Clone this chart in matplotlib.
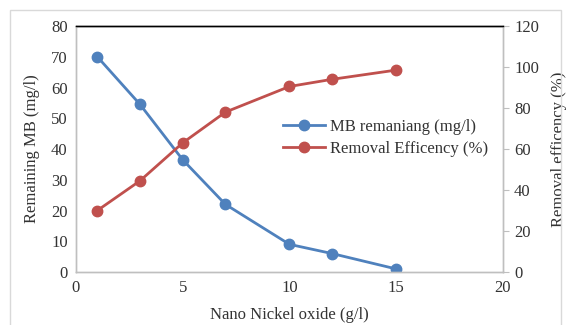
import matplotlib
matplotlib.use("Agg")
import matplotlib.pyplot as plt
from matplotlib.patches import Rectangle

# Data
dose = [1, 3, 5, 7, 10, 12, 15]
mb_remaining = [70, 54.5, 36.5, 22, 9, 6, 1]
removal_eff = [30, 44.5, 63, 78, 90.5, 94, 98.5]

x_ticks = [0, 5, 10, 15, 20]
left_ticks = [0, 10, 20, 30, 40, 50, 60, 70, 80]
right_ticks = [0, 20, 40, 60, 80, 100, 120]

BLUE = "#4F81BD"
RED = "#C0504D"
GRID = "#BFBFBF"
TEXT = "#333333"

plt.rcParams["font.family"] = ["Liberation Serif", "DejaVu Serif"]
plt.rcParams["font.size"] = 12

fig = plt.figure(figsize=(5.67, 3.25), dpi=100)
fig.patches.append(Rectangle((0.018, -0.01), 0.972, 0.978, transform=fig.transFigure,
                             fill=False, edgecolor="#D9D9D9", linewidth=1.0))

ax = fig.add_axes([0.134, 0.163, 0.753, 0.757])
ax2 = ax.twinx()

l1, = ax.plot(dose, mb_remaining, color=BLUE, lw=2, marker="o", ms=7.5,
              label="MB remaniang (mg/l)")
l2, = ax2.plot(dose, removal_eff, color=RED, lw=2, marker="o", ms=7.5,
               label="Removal Efficency (%)")

ax.set_xlim(0, 20)
ax.set_ylim(0, 80)
ax2.set_ylim(0, 120)
ax.set_xticks(x_ticks)
ax.set_yticks(left_ticks)
ax2.set_yticks(right_ticks)

ax.set_xlabel("Nano Nickel oxide (g/l)", labelpad=8)
ax.set_ylabel("Remaining MB (mg/l)", labelpad=8)
ax2.set_ylabel("Removal efficency (%)", labelpad=9)

for a in (ax, ax2):
    a.spines["top"].set_color("black")
    a.spines["top"].set_linewidth(1.0)
    for s in ("left", "right", "bottom"):
        a.spines[s].set_color(GRID)
        a.spines[s].set_linewidth(1.0)
    a.tick_params(colors=TEXT, labelcolor=TEXT)

ax.tick_params(axis="both", length=0, pad=6)
ax2.tick_params(axis="y", length=4, color=GRID, pad=4)
ax.xaxis.label.set_color(TEXT)
ax.yaxis.label.set_color(TEXT)
ax2.yaxis.label.set_color(TEXT)

leg = ax.legend(handles=[l1, l2], loc="upper left", bbox_to_anchor=(0.47, 0.65),
                frameon=False, handlelength=2.5, borderaxespad=0, labelspacing=0.35,
                handletextpad=0.3)
for t in leg.get_texts():
    t.set_color(TEXT)

fig.savefig("out.png", dpi=100)
